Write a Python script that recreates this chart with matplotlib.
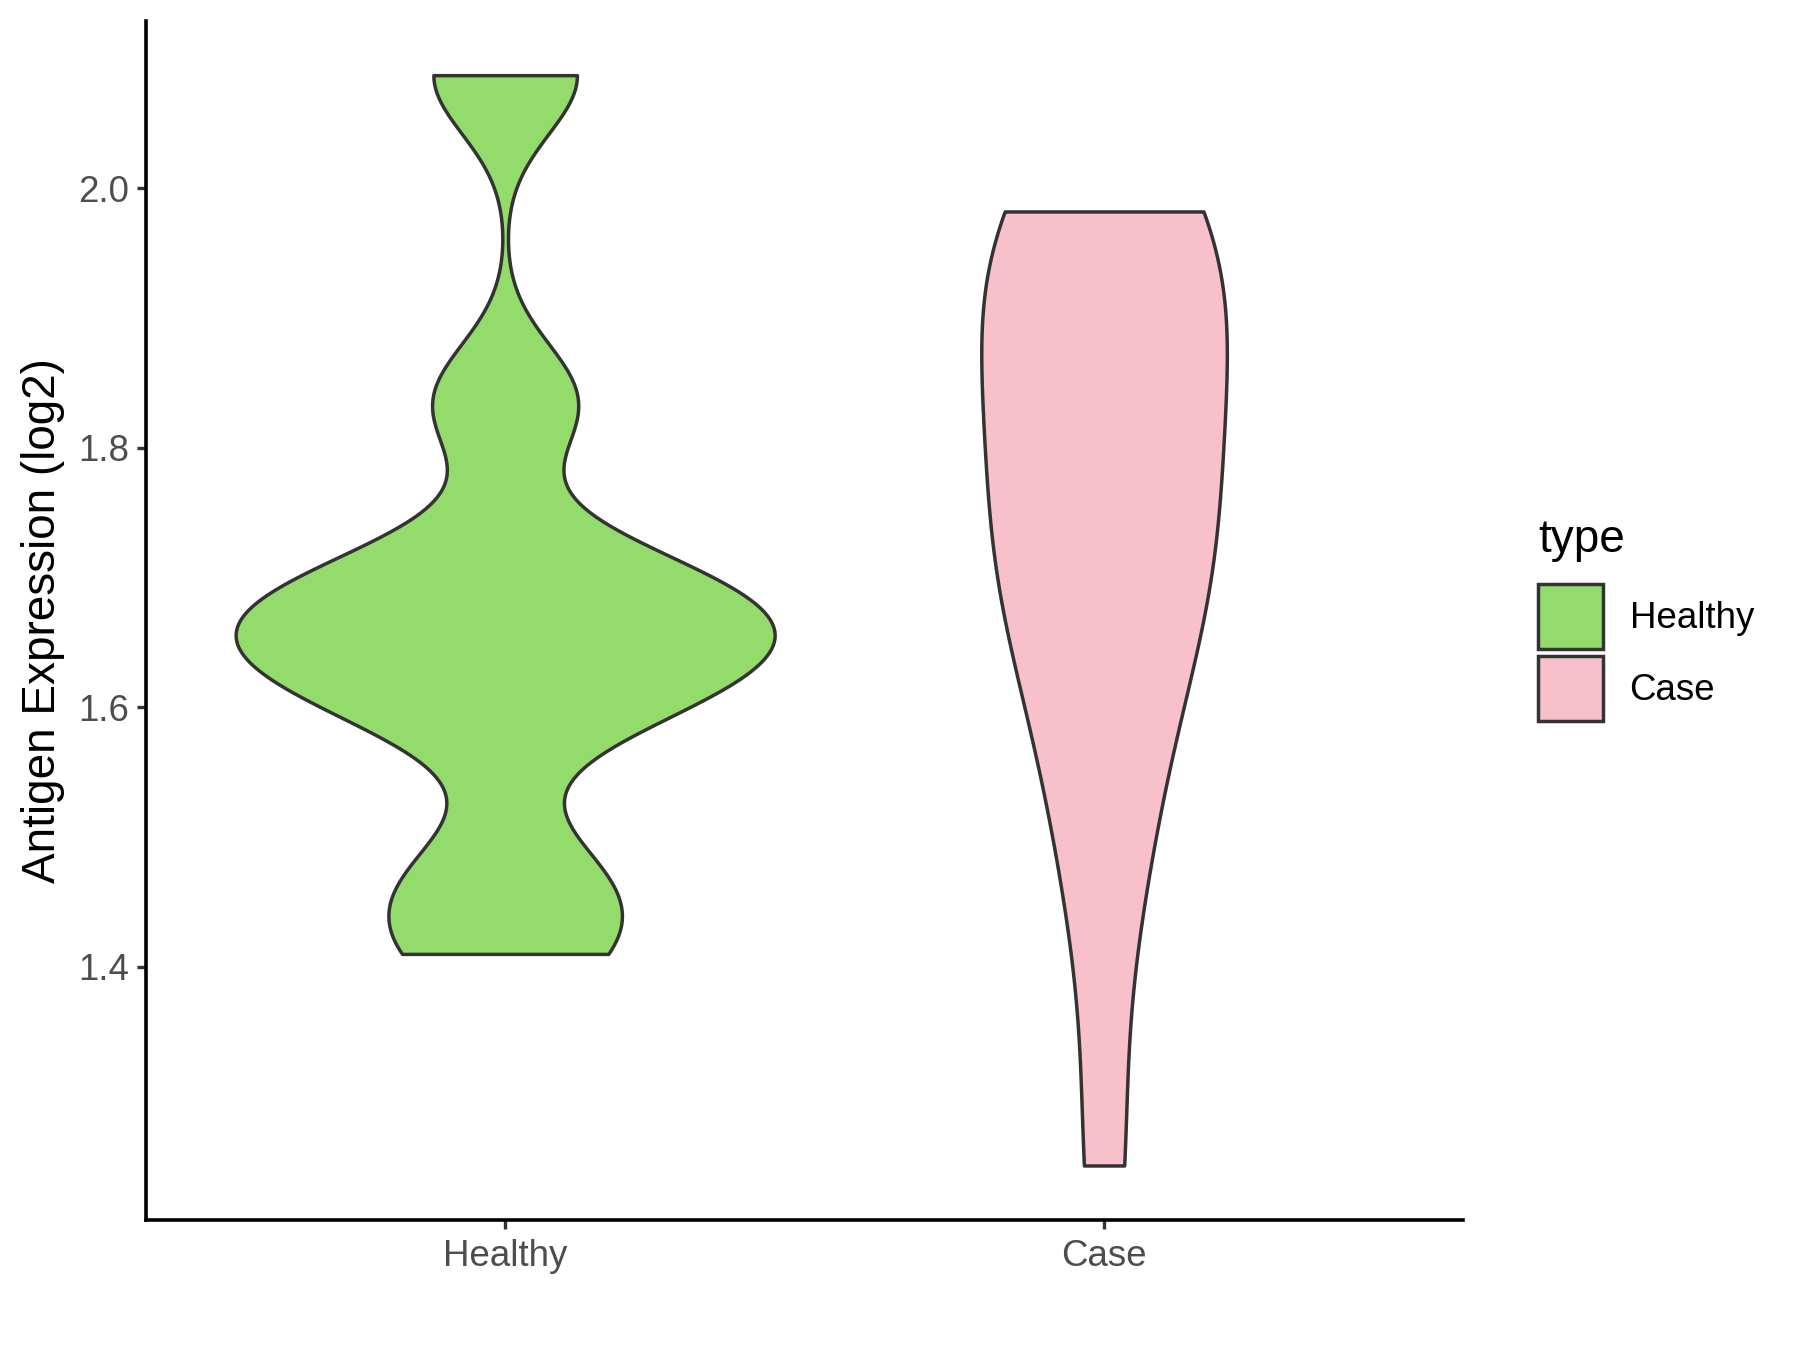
import numpy as np
import matplotlib
matplotlib.use("Agg")
import matplotlib.pyplot as plt
from matplotlib.patches import Patch

plt.rcParams["font.family"] = ["Liberation Sans", "DejaVu Sans"]

# --- Data ---
groups = ["Healthy", "Case"]
healthy_vals = [1.41, 1.468, 1.60, 1.63, 1.655, 1.68, 1.703, 1.835, 2.087]
case_vals = [1.247, 1.44, 1.53, 1.60, 1.66, 1.70, 1.71, 1.75, 1.79,
             1.83, 1.87, 1.91, 1.94, 1.97, 1.982, 1.982]
bandwidths = [0.045, 0.10]          # kernel sd per group
violin_widths = [0.90, 0.41]        # full width of each violin at its widest
fill_colors = ["#93DB6B", "#F7C0CB"]
y_ticks = [1.4, 1.6, 1.8, 2.0]
edge_color = "#333333"


def fixed_bw(target_sd):
    # violinplot wants a factor relative to the data sd
    return lambda kde: target_sd / np.std(kde.dataset, ddof=1)


fig = plt.figure(figsize=(9, 6.75), dpi=200)
ax = fig.add_axes([0.081, 0.0963, 0.732, 0.8884])

all_vals = []
for i, (vals, bw, w, col) in enumerate(zip([healthy_vals, case_vals], bandwidths,
                                            violin_widths, fill_colors)):
    parts = ax.violinplot([vals], positions=[i + 1], widths=w, showextrema=False,
                          bw_method=fixed_bw(bw), points=500)
    for body in parts["bodies"]:
        body.set_facecolor(col)
        body.set_edgecolor(edge_color)
        body.set_linewidth(1.25)
        body.set_alpha(1)
        body.set_joinstyle("round")
    all_vals += vals

# ggplot-style 5% expansion of the data range
lo, hi = min(all_vals), max(all_vals)
pad = 0.05 * (hi - lo)
ax.set_ylim(lo - pad, hi + pad)
ax.set_xlim(0.4, 2.6)

ax.set_xticks([1, 2])
ax.set_xticklabels(groups)
ax.set_yticks(y_ticks)
ax.set_yticklabels([f"{t:.1f}" for t in y_ticks])
ax.set_ylabel("Antigen Expression (log2)", fontsize=16.5, labelpad=4.5)

for side in ["top", "right"]:
    ax.spines[side].set_visible(False)
for side in ["left", "bottom"]:
    ax.spines[side].set_linewidth(1.3)
    ax.spines[side].set_color("black")
ax.tick_params(axis="both", length=3.3, width=1.2, color="#333333",
               labelcolor="#4D4D4D", labelsize=13.2)
ax.tick_params(axis="x", pad=3.5)
ax.tick_params(axis="y", pad=2.8)

# legend: title as its own text so the gap above the keys matches ggplot
fig.text(0.8546, 0.6003, "type", fontsize=16.5, ha="left", va="center")
handles = [Patch(facecolor=c, edgecolor=edge_color, linewidth=1.25, label=g)
           for c, g in zip(fill_colors, groups)]
leg = fig.legend(handles=handles, loc="upper left",
                 bbox_to_anchor=(0.8546, 0.5672), frameon=False, fontsize=13.2,
                 handlelength=1.77, handleheight=2.35,
                 labelspacing=0.19, handletextpad=0.72, borderpad=0,
                 borderaxespad=0)

fig.savefig("out.png", dpi=200)
